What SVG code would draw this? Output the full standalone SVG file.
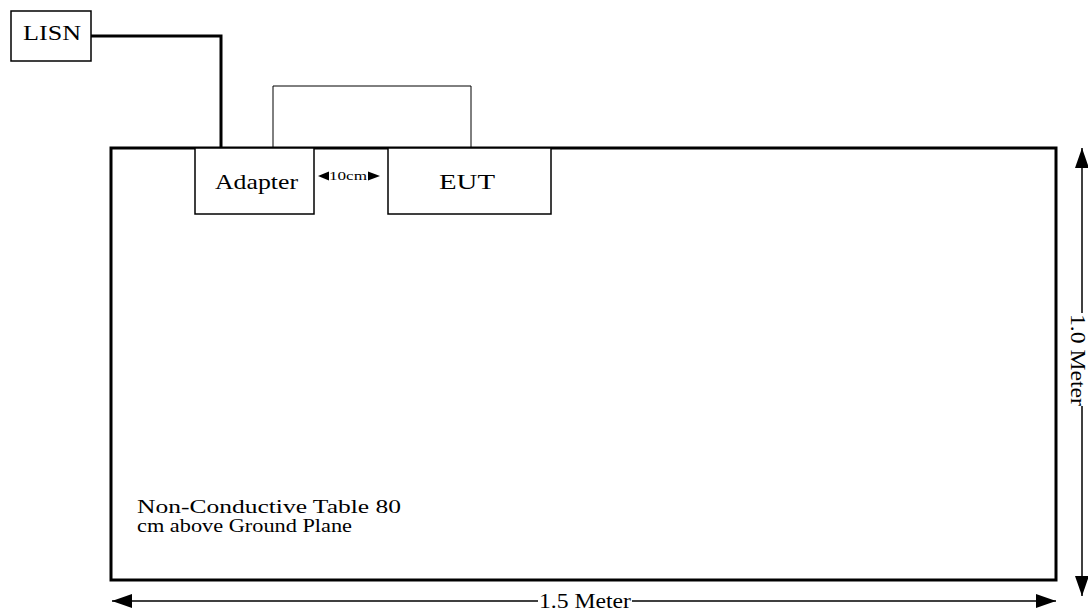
<svg xmlns="http://www.w3.org/2000/svg" width="1088" height="612" viewBox="0 0 1088 612">
<style>
.t{font-family:"Liberation Serif","Times New Roman",serif;fill:#000}
.box{fill:#fff;stroke:#000;stroke-width:1.5}
.dim{stroke:#000;stroke-width:1.5;fill:none}
</style>
<defs>
<marker id="ah" markerWidth="20" markerHeight="14" refX="20" refY="7" orient="auto-start-reverse" markerUnits="userSpaceOnUse">
<path d="M0,0 L20,7 L0,14 Z" fill="#000"/>
</marker>
</defs>
<rect width="1088" height="612" fill="#fff"/>
<g id="table">
<rect x="111" y="148" width="945" height="432" fill="#fff" stroke="#000" stroke-width="3"/>
<text class="t" font-size="18"><tspan x="137" y="513" textLength="264" lengthAdjust="spacingAndGlyphs">Non-Conductive Table 80</tspan><tspan x="137" y="532" textLength="215" lengthAdjust="spacingAndGlyphs">cm above Ground Plane</tspan></text>
</g>
<g id="connectors">
<path d="M91,36 H221 V148" fill="none" stroke="#000" stroke-width="3"/>
<path d="M273,148 V86 H471 V148" fill="none" stroke="#000" stroke-width="1"/>
</g>
<g id="lisn">
<rect class="box" x="11" y="11" width="80" height="50"/>
<text class="t" x="23" y="40" font-size="22" textLength="58" lengthAdjust="spacingAndGlyphs">LISN</text>
</g>
<g id="adapter">
<rect class="box" x="195" y="148" width="119" height="66"/>
<text class="t" x="215" y="189" font-size="22" textLength="83" lengthAdjust="spacingAndGlyphs">Adapter</text>
</g>
<g id="eut">
<rect class="box" x="388" y="148" width="163" height="66"/>
<text class="t" x="439" y="189" font-size="22" textLength="56" lengthAdjust="spacingAndGlyphs">EUT</text>
</g>
<g id="gap">
<path d="M318,176 L329,171.5 L329,180.5 Z" fill="#000"/>
<path d="M380,176 L368,171.5 L368,180.5 Z" fill="#000"/>
<text class="t" x="329" y="180" font-size="13" textLength="38" lengthAdjust="spacingAndGlyphs">10cm</text>
</g>
<g id="dims">
<line class="dim" x1="538" y1="601" x2="112" y2="601" marker-end="url(#ah)"/>
<line class="dim" x1="632" y1="601" x2="1056" y2="601" marker-end="url(#ah)"/>
<text class="t" x="539" y="608" font-size="22" textLength="92" lengthAdjust="spacingAndGlyphs">1.5 Meter</text>
<line class="dim" x1="1082" y1="313" x2="1082" y2="148" marker-end="url(#ah)"/>
<line class="dim" x1="1082" y1="406" x2="1082" y2="596" marker-end="url(#ah)"/>
<text class="t" font-size="21" textLength="92" lengthAdjust="spacingAndGlyphs" transform="translate(1071,314) rotate(90)">1.0 Meter</text>
</g>
</svg>
